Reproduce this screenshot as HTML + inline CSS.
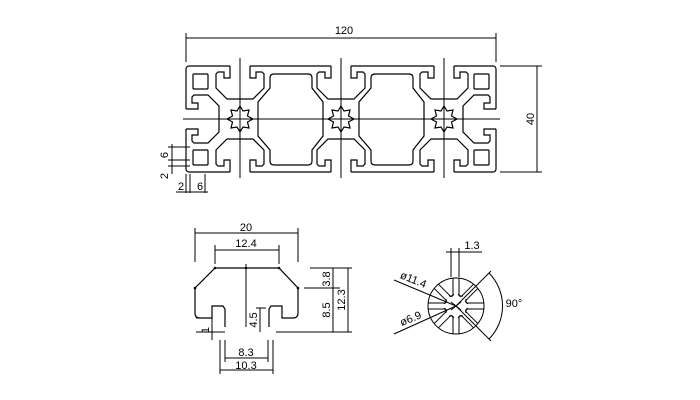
<!DOCTYPE html>
<html><head><meta charset="utf-8"><style>
html,body{margin:0;padding:0;background:#fff;}
svg{display:block;font-family:"Liberation Sans",sans-serif;}
</style></head><body>
<svg width="700" height="400" viewBox="0 0 700 400" xmlns="http://www.w3.org/2000/svg">
<defs>
<path id="slot" d="M-10,0 L-10,12 L-16,12 L-16,6 L-22,6 L-24,8 L-24,22 L-13,33 L13,33 L24,22 L24,8 L22,6 L16,6 L16,12 L10,12 L10,0" fill="none" stroke="#000" stroke-width="1.2"/>
<path id="star" d="M0,-13 L3,-8 L9,-9 L7.5,-3 L13,0 L7.5,3 L9,9 L3,8 L0,13 L-3,8 L-9,9 L-7.5,3 L-13,0 L-7.5,-3 L-9,-9 L-3,-8 Z" fill="#fff" stroke="#000" stroke-width="1.2"/>
<path id="cav" d="M274,74 L308,74 Q312,74 312,78 L312,88 L323,102 L323,136 L312,150 L312,161 Q312,165 308,165 L274,165 Q270,165 270,161 L270,150 L258,136 L258,102 L270,88 L270,78 Q270,74 274,74 Z" fill="none" stroke="#000" stroke-width="1.2"/>
</defs>
<g stroke="#000" fill="none" stroke-width="1">
<line x1="186" y1="33" x2="186" y2="62"/><line x1="496" y1="33" x2="496" y2="62"/>
<line x1="186" y1="38" x2="496" y2="38"/>
<line x1="500" y1="66" x2="542" y2="66"/><line x1="500" y1="172" x2="542" y2="172"/>
<line x1="537" y1="66" x2="537" y2="172"/>
<rect x="186" y="66" width="310" height="106" rx="3" stroke-width="1.2"/>
</g>
<g fill="#fff">
<rect x="230" y="64" width="20" height="4"/><rect x="331" y="64" width="20" height="4"/><rect x="434" y="64" width="20" height="4"/>
<rect x="230" y="170" width="20" height="4"/><rect x="331" y="170" width="20" height="4"/><rect x="434" y="170" width="20" height="4"/>
<rect x="184" y="109" width="4" height="20"/><rect x="494" y="109" width="4" height="20"/>
</g>
<use href="#slot" transform="translate(240,66)"/><use href="#slot" transform="translate(341,66)"/><use href="#slot" transform="translate(444,66)"/>
<use href="#slot" transform="translate(240,172) scale(1,-1)"/><use href="#slot" transform="translate(341,172) scale(1,-1)"/><use href="#slot" transform="translate(444,172) scale(1,-1)"/>
<use href="#slot" transform="translate(186,119) rotate(-90)"/><use href="#slot" transform="translate(496,119) rotate(90)"/>
<g stroke="#000" fill="none" stroke-width="1.2">
<rect x="193" y="74" width="15" height="15" rx="1"/><rect x="193" y="150" width="15" height="15" rx="1"/>
<rect x="474" y="74" width="15" height="15" rx="1"/><rect x="474" y="150" width="15" height="15" rx="1"/>
</g>
<use href="#cav"/><use href="#cav" transform="translate(101,0)"/>
<use href="#star" transform="translate(240,119)"/><use href="#star" transform="translate(341,119)"/><use href="#star" transform="translate(444,119)"/>
<g stroke="#000" stroke-width="1">
<line x1="183" y1="119" x2="500" y2="119"/>
<line x1="240" y1="58" x2="240" y2="178"/><line x1="341" y1="58" x2="341" y2="178"/><line x1="444" y1="58" x2="444" y2="178"/>
<line x1="168" y1="147" x2="190" y2="147"/><line x1="168" y1="160" x2="190" y2="160"/><line x1="168" y1="166" x2="190" y2="166"/>
<line x1="172" y1="144" x2="172" y2="174"/>
<line x1="186" y1="174" x2="186" y2="193"/><line x1="190" y1="174" x2="190" y2="193"/><line x1="205" y1="174" x2="205" y2="193"/>
<line x1="176" y1="192" x2="208" y2="192"/>
</g>
<g stroke="#000" fill="none" stroke-width="1.2">
<path d="M225,327 L225,309 L223,306 L212,306 L212,318 L200,318 Q195,318 195,313 L195,288 L215,268 L279,268 L298,288 L298,313 Q298,318 293,318 L282,318 L282,306 L271,306 L269,309 L269,327"/>
</g>
<g stroke="#000" stroke-width="1" fill="none">
<line x1="246" y1="264" x2="246" y2="327"/>
<line x1="195" y1="228" x2="195" y2="262"/><line x1="298" y1="228" x2="298" y2="262"/><line x1="195" y1="233" x2="298" y2="233"/>
<line x1="215" y1="245" x2="215" y2="264"/><line x1="279" y1="245" x2="279" y2="264"/><line x1="215" y1="250" x2="279" y2="250"/>
<line x1="310" y1="268" x2="352" y2="268"/><line x1="304" y1="288" x2="340" y2="288"/><line x1="276" y1="332" x2="352" y2="332"/>
<line x1="333" y1="268" x2="333" y2="332"/><line x1="348" y1="268" x2="348" y2="332"/>
<line x1="256" y1="308" x2="266" y2="308"/><line x1="260" y1="308" x2="260" y2="332"/>
<line x1="196" y1="318" x2="212" y2="318"/><line x1="196" y1="332" x2="225" y2="332"/><line x1="212" y1="312" x2="212" y2="340"/>
<line x1="220" y1="340" x2="220" y2="374"/><line x1="225" y1="340" x2="225" y2="362"/><line x1="268" y1="340" x2="268" y2="362"/><line x1="273" y1="340" x2="273" y2="374"/>
<line x1="225" y1="358" x2="268" y2="358"/><line x1="220" y1="370" x2="273" y2="370"/>
</g>
<g fill="#000"><circle cx="215" cy="268" r="1.3"/><circle cx="279" cy="268" r="1.3"/><circle cx="246" cy="268" r="1.3"/><circle cx="195" cy="288" r="1.3"/><circle cx="298" cy="288" r="1.3"/></g>
<g stroke="#000" stroke-width="1" fill="none">
<circle cx="456" cy="306" r="28"/>
<g id="sp"><path d="M453,296 L453,278 M459,296 L459,278 M453,296 L449,296 M459,296 L463,296"/></g>
<use href="#sp" transform="rotate(45 456 306)"/><use href="#sp" transform="rotate(90 456 306)"/><use href="#sp" transform="rotate(135 456 306)"/>
<use href="#sp" transform="rotate(180 456 306)"/><use href="#sp" transform="rotate(225 456 306)"/><use href="#sp" transform="rotate(270 456 306)"/><use href="#sp" transform="rotate(315 456 306)"/>
<line x1="451" y1="302" x2="461" y2="310"/><line x1="451" y1="310" x2="461" y2="302"/>
<line x1="451" y1="248" x2="451" y2="277"/><line x1="459" y1="248" x2="459" y2="277"/><line x1="446" y1="252" x2="482" y2="252"/>
<line x1="394" y1="280" x2="456" y2="306"/><line x1="394" y1="334" x2="456" y2="306"/>
<line x1="456" y1="306" x2="491" y2="271"/><line x1="456" y1="306" x2="491" y2="341"/>
<path d="M489,273 A47,47 0 0 1 489,339"/>
</g>
<g font-size="11" fill="#000" text-anchor="middle">
<text x="344" y="34">120</text>
<text transform="translate(534,119) rotate(-90)">40</text>
<text transform="translate(168,155) rotate(-90)">6</text>
<text transform="translate(168,176) rotate(-90)">2</text>
<text x="181" y="190">2</text><text x="200" y="190">6</text>
<text x="246" y="231">20</text><text x="246" y="247">12.4</text>
<text transform="translate(330,279) rotate(-90)">3.8</text>
<text transform="translate(330,310) rotate(-90)">8.5</text>
<text transform="translate(345,300) rotate(-90)">12.3</text>
<text transform="translate(257,320) rotate(-90)">4.5</text>
<text transform="translate(209,330) rotate(-90)">1</text>
<text x="246" y="356">8.3</text><text x="246" y="369">10.3</text>
<text x="472" y="249">1.3</text>
<text x="514" y="307">90°</text>
<text transform="translate(412,283) rotate(22)">ø11.4</text>
<text transform="translate(412,322) rotate(-22)">ø6.9</text>
</g>
</svg>
</body></html>
